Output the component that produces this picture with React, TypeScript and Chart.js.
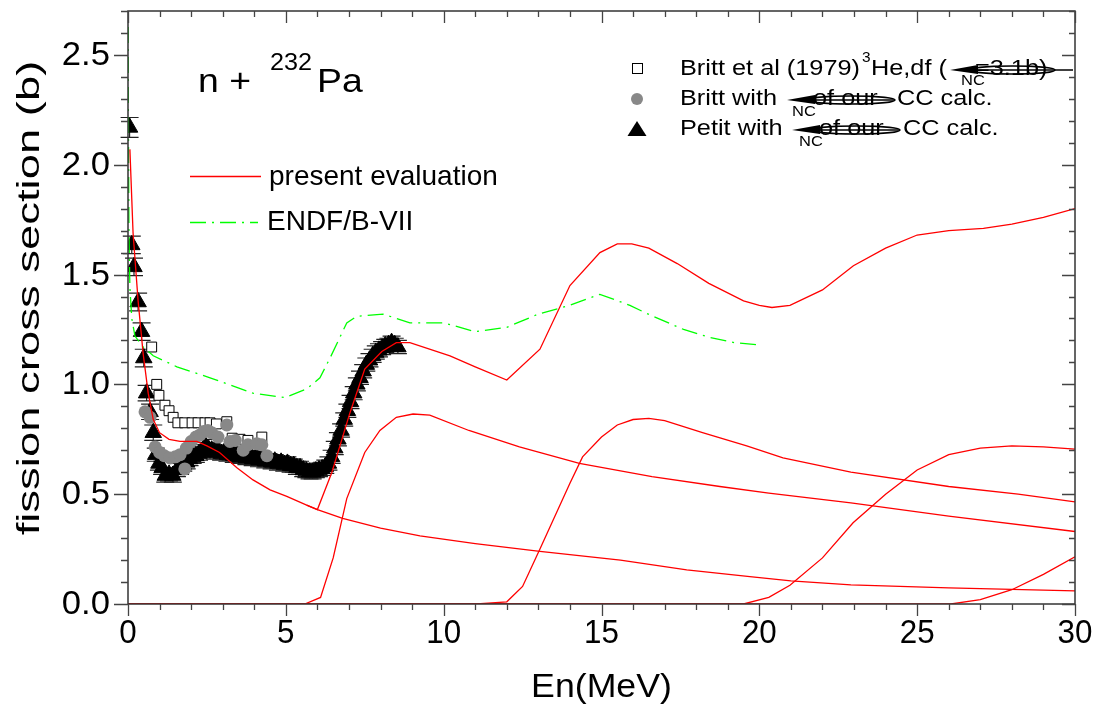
import React, { useEffect, useRef } from "react";
import { Chart, registerables } from "chart.js";

Chart.register(...registerables);

// ---------- data ----------
const X_TICKS_MAJOR = [0, 5, 10, 15, 20, 25, 30];
const X_TICK_LABELS = ["0", "5", "10", "15", "20", "25", "30"];
const Y_TICKS_MAJOR = [0, 0.5, 1.0, 1.5, 2.0, 2.5];
const Y_TICK_LABELS = ["0.0", "0.5", "1.0", "1.5", "2.0", "2.5"];

// present evaluation: total fission and multi-chance components
const TOTAL: [number, number][] = [
  [0.06, 2.07], [0.16, 1.69], [0.32, 1.38], [0.48, 1.14], [0.64, 0.96], [0.8, 0.84], [1.0, 0.78],
  [1.3, 0.75], [1.65, 0.74], [2.18, 0.74], [2.5, 0.72], [2.9, 0.69], [3.45, 0.62], [3.96, 0.565],
  [4.5, 0.52], [5.03, 0.49], [5.66, 0.45], [6.0, 0.43], [6.46, 0.6], [7.03, 0.87], [7.5, 1.07],
  [8.04, 1.15], [8.5, 1.19], [8.93, 1.19], [10.2, 1.13], [11.0, 1.08], [12.0, 1.02], [13.05, 1.16],
  [14.0, 1.45], [14.95, 1.6], [15.5, 1.64], [15.96, 1.64], [16.5, 1.62], [17.4, 1.55], [18.4, 1.46],
  [19.5, 1.38], [20.0, 1.36], [20.4, 1.35], [20.97, 1.36], [22.0, 1.43], [22.98, 1.54], [24.0, 1.62],
  [25.0, 1.68], [26.0, 1.7], [27.1, 1.71], [28.0, 1.73], [29.0, 1.76], [30.0, 1.8],
];
const FIRST_CHANCE: [number, number][] = [
  [5.66, 0.45], [6.0, 0.43], [6.8, 0.39], [8.0, 0.345], [9.25, 0.31], [11.0, 0.275], [13.05, 0.24],
  [15.6, 0.2], [17.7, 0.155], [19.7, 0.125], [21.0, 0.105], [22.9, 0.087], [26.0, 0.073], [30.0, 0.06],
];
const SECOND_CHANCE: [number, number][] = [
  [0, 0], [5.6, 0], [6.1, 0.03], [6.5, 0.21], [6.93, 0.48], [7.5, 0.69], [7.98, 0.79], [8.5, 0.85],
  [9.03, 0.865], [9.56, 0.86], [10.8, 0.79], [12.4, 0.715], [14.3, 0.64], [16.6, 0.58], [18.75, 0.535],
  [20.3, 0.505], [22.9, 0.46], [26.0, 0.4], [30.0, 0.33],
];
const THIRD_CHANCE: [number, number][] = [
  [0, 0], [11.05, 0], [12.0, 0.01], [12.5, 0.08], [13.05, 0.25], [14.0, 0.55], [14.4, 0.67],
  [15.0, 0.76], [15.5, 0.815], [16.0, 0.84], [16.5, 0.845], [17.0, 0.835], [18.2, 0.78], [19.6, 0.72],
  [20.75, 0.665], [22.9, 0.6], [26.0, 0.535], [28.2, 0.5], [30.0, 0.465],
];
const FOURTH_CHANCE: [number, number][] = [
  [0, 0], [19.5, 0], [20.3, 0.03], [20.97, 0.085], [22.0, 0.21], [22.97, 0.37], [24.0, 0.5],
  [25.0, 0.61], [26.0, 0.68], [27.0, 0.71], [28.0, 0.72], [29.0, 0.715], [30.0, 0.705],
];
const FIFTH_CHANCE: [number, number][] = [
  [0, 0], [26.07, 0], [27.0, 0.02], [28.0, 0.065], [29.0, 0.135], [30.0, 0.215],
];

// ENDF/B-VII
const ENDF: [number, number][] = [
  [0.002, 2.9], [0.01, 2.3], [0.03, 1.69], [0.06, 1.44], [0.12, 1.3], [0.22, 1.22], [0.48, 1.17],
  [0.8, 1.13], [1.55, 1.08], [2.6, 1.03], [3.96, 0.96], [4.97, 0.94], [5.67, 0.98], [6.08, 1.03],
  [6.4, 1.12], [6.93, 1.28], [7.25, 1.31], [8.08, 1.32], [8.93, 1.28], [10.0, 1.28], [11.0, 1.24],
  [12.0, 1.26], [13.0, 1.32], [14.0, 1.36], [14.95, 1.41], [15.9, 1.36], [16.4, 1.325], [17.6, 1.25],
  [18.4, 1.215], [19.2, 1.19], [20.0, 1.18],
];

// Britt et al (1979) 3He,df
const BRITT: [number, number][] = [
  [0.75, 1.17], [0.91, 1.0], [0.98, 0.95], [1.17, 0.905], [1.3, 0.88], [1.43, 0.85], [1.58, 0.825],
  [1.8, 0.825], [2.03, 0.825], [2.22, 0.825], [2.44, 0.825], [2.6, 0.825], [2.8, 0.82], [3.13, 0.83],
  [3.3, 0.755], [3.55, 0.75], [3.8, 0.745], [4.24, 0.76],
];
// Britt with sigma_NC of our CC calc.
const BRITT_CC: [number, number][] = [
  [0.54, 0.875], [0.7, 0.85], [0.86, 0.715], [1.0, 0.69], [1.15, 0.675], [1.33, 0.665], [1.5, 0.67],
  [1.65, 0.68], [1.8, 0.615], [1.85, 0.71], [2.0, 0.74], [2.15, 0.76], [2.28, 0.77], [2.4, 0.785],
  [2.53, 0.79], [2.65, 0.78], [2.85, 0.76], [3.13, 0.815], [3.23, 0.74], [3.4, 0.745], [3.65, 0.7],
  [3.8, 0.725], [4.08, 0.73], [4.24, 0.725], [4.4, 0.675],
];
// Petit with sigma_NC of our CC calc.: [x, y, error]
const PETIT: [number, number, number][] = [
  [0.05, 2.17, 0.045], [0.12, 1.635, 0.04], [0.19, 1.535, 0.04], [0.32, 1.375, 0.04], [0.43, 1.24, 0.04],
  [0.5, 1.12, 0.04], [0.59, 0.96, 0.035], [0.7, 0.875, 0.035], [0.8, 0.78, 0.035], [0.88, 0.68, 0.03],
  [0.98, 0.64, 0.03], [1.08, 0.62, 0.03], [1.18, 0.585, 0.03], [1.3, 0.59, 0.03], [1.42, 0.585, 0.03],
  [1.55, 0.61, 0.03], [1.65, 0.62, 0.03], [1.75, 0.635, 0.03], [1.86, 0.645, 0.03], [1.95, 0.66, 0.03],
  [2.05, 0.67, 0.03], [2.15, 0.675, 0.03], [2.25, 0.685, 0.03], [2.35, 0.695, 0.03], [2.45, 0.72, 0.03],
  [2.55, 0.705, 0.03], [2.65, 0.7, 0.03], [2.75, 0.69, 0.03], [2.85, 0.695, 0.03], [2.95, 0.685, 0.03],
  [3.05, 0.69, 0.03], [3.15, 0.68, 0.03], [3.25, 0.685, 0.03], [3.35, 0.675, 0.03], [3.45, 0.68, 0.03],
  [3.55, 0.67, 0.03], [3.65, 0.675, 0.03], [3.75, 0.665, 0.03], [3.85, 0.67, 0.03], [3.95, 0.66, 0.03],
  [4.05, 0.665, 0.03], [4.15, 0.655, 0.03], [4.25, 0.66, 0.03], [4.35, 0.65, 0.03], [4.45, 0.655, 0.03],
  [4.55, 0.645, 0.03], [4.65, 0.65, 0.03], [4.75, 0.64, 0.03], [4.85, 0.645, 0.03], [4.95, 0.635, 0.03],
  [5.05, 0.64, 0.03], [5.15, 0.63, 0.03], [5.25, 0.63, 0.03], [5.35, 0.62, 0.03], [5.45, 0.62, 0.03],
  [5.55, 0.61, 0.03], [5.65, 0.605, 0.03], [5.75, 0.6, 0.03], [5.85, 0.6, 0.03], [5.95, 0.605, 0.03],
  [6.05, 0.61, 0.03], [6.15, 0.615, 0.03], [6.25, 0.625, 0.03], [6.35, 0.64, 0.03], [6.45, 0.67, 0.03],
  [6.55, 0.71, 0.03], [6.65, 0.75, 0.03], [6.75, 0.79, 0.03], [6.85, 0.84, 0.03], [6.95, 0.88, 0.03],
  [7.05, 0.92, 0.03], [7.15, 0.96, 0.03], [7.25, 1.0, 0.03], [7.35, 1.03, 0.03], [7.45, 1.06, 0.03],
  [7.55, 1.09, 0.03], [7.65, 1.11, 0.03], [7.75, 1.13, 0.03], [7.85, 1.145, 0.03], [7.95, 1.155, 0.03],
  [8.05, 1.165, 0.03], [8.15, 1.175, 0.03], [8.25, 1.18, 0.03], [8.35, 1.19, 0.03], [8.45, 1.18, 0.03],
  [8.55, 1.17, 0.03],
];

const FONT = '"Liberation Sans", Arial, sans-serif';

const pts = (a: number[][]) => a.map((p) => ({ x: p[0], y: p[1] }));

function drawText(
  ctx: CanvasRenderingContext2D, s: string, x: number, y: number, size: number,
  sx = 1, align: CanvasTextAlign = "left", baseline: CanvasTextBaseline = "middle", rot = 0
) {
  ctx.save();
  ctx.font = `${size}px ${FONT}`;
  ctx.fillStyle = "#000";
  ctx.translate(x, y);
  if (rot) ctx.rotate(rot);
  ctx.scale(sx, 1);
  ctx.textAlign = align;
  ctx.textBaseline = baseline;
  ctx.fillText(s, 0, 0);
  ctx.restore();
}

function glitch(ctx: CanvasRenderingContext2D, x0: number, y: number, len: number, tail = 0) {
  ctx.save();
  ctx.fillStyle = "#000";
  ctx.strokeStyle = "#000";
  ctx.beginPath();
  ctx.moveTo(x0, y);
  ctx.lineTo(x0 + 28, y - 5);
  ctx.lineTo(x0 + 28, y + 4);
  ctx.closePath();
  ctx.fill();
  ctx.lineWidth = 1.6;
  ctx.beginPath();
  ctx.ellipse(x0 + 20 + (len - 20) / 2, y, (len - 20) / 2, 4, 0, 0, Math.PI * 2);
  ctx.stroke();
  ctx.beginPath();
  ctx.moveTo(x0 + 20, y);
  ctx.lineTo(x0 + len + tail, y);
  ctx.stroke();
  ctx.restore();
}

const framePlugin = {
  id: "frame",
  beforeDatasetsDraw(chart: any) {
    const { ctx, scales } = chart;
    const xs = scales.x, ys = scales.y;
    ctx.save();
    ctx.strokeStyle = "#222";
    ctx.lineWidth = 1.2;
    for (const [x, y, e] of PETIT) {
      const px = xs.getPixelForValue(x);
      const p1 = ys.getPixelForValue(y + e);
      const p2 = ys.getPixelForValue(y - e);
      ctx.beginPath();
      ctx.moveTo(px, p1); ctx.lineTo(px, p2);
      ctx.moveTo(px - 9, p1); ctx.lineTo(px + 9, p1);
      ctx.moveTo(px - 9, p2); ctx.lineTo(px + 9, p2);
      ctx.stroke();
    }
    ctx.restore();
  },
  afterDraw(chart: any) {
    const { ctx, chartArea: a, scales } = chart;
    const xs = scales.x, ys = scales.y;
    ctx.save();
    // frame
    ctx.strokeStyle = "#333";
    ctx.lineWidth = 1.5;
    ctx.strokeRect(a.left, a.top, a.right - a.left, a.bottom - a.top);
    // ticks
    ctx.strokeStyle = "#444";
    ctx.lineWidth = 1.3;
    ctx.beginPath();
    for (let i = 0; i <= 27; i++) {
      const y = Math.round(ys.getPixelForValue(i / 10)) + 0.5;
      const major = Y_TICKS_MAJOR.some((v) => Math.abs(v - i / 10) < 1e-9);
      ctx.moveTo(a.left - (major ? 14 : 7), y); ctx.lineTo(a.left, y);
      ctx.moveTo(a.right, y); ctx.lineTo(a.right - (major ? 13 : 6), y);
    }
    for (let i = 0; i <= 30; i++) {
      const x = Math.round(xs.getPixelForValue(i)) + 0.5;
      const major = X_TICKS_MAJOR.includes(i);
      ctx.moveTo(x, a.bottom); ctx.lineTo(x, a.bottom + (major ? 12 : 6));
      ctx.moveTo(x, a.top); ctx.lineTo(x, a.top + (major ? 12 : 6));
    }
    ctx.stroke();
    ctx.restore();

    // tick labels
    Y_TICKS_MAJOR.forEach((v, i) => {
      drawText(ctx, Y_TICK_LABELS[i], a.left - 18, ys.getPixelForValue(v) + 1, 33, 1.05, "right", "middle");
    });
    X_TICKS_MAJOR.forEach((v, i) => {
      drawText(ctx, X_TICK_LABELS[i], xs.getPixelForValue(v), a.bottom + 30, 33, 0.95, "center", "middle");
    });

    // axis titles
    drawText(ctx, "En(MeV)", (a.left + a.right) / 2, 688, 34, 1.05, "center", "middle");
    drawText(ctx, "fission cross section (b)", 30, 298, 32, 1.42, "center", "middle", -Math.PI / 2);

    // reaction label
    drawText(ctx, "n + ", 198, 92, 34, 1.1, "left", "alphabetic");
    drawText(ctx, "232", 270, 70, 24, 1.05, "left", "alphabetic");
    drawText(ctx, "Pa", 317, 92, 34, 1.1, "left", "alphabetic");

    // line legend
    ctx.save();
    ctx.lineWidth = 1.3;
    ctx.strokeStyle = "#ff0000";
    ctx.beginPath(); ctx.moveTo(190, 176.5); ctx.lineTo(261, 176.5); ctx.stroke();
    ctx.strokeStyle = "#00ff00";
    ctx.setLineDash([16, 6, 2, 6]);
    ctx.beginPath(); ctx.moveTo(190, 222.5); ctx.lineTo(258, 222.5); ctx.stroke();
    ctx.restore();
    drawText(ctx, "present evaluation", 269, 177, 28);
    drawText(ctx, "ENDF/B-VII", 267, 222, 28);

    // marker legend
    ctx.save();
    ctx.fillStyle = "#fff"; ctx.strokeStyle = "#000"; ctx.lineWidth = 1;
    ctx.fillRect(632.5, 63.5, 10, 10); ctx.strokeRect(632.5, 63.5, 10, 10);
    ctx.fillStyle = "#888";
    ctx.beginPath(); ctx.arc(637, 99, 6, 0, Math.PI * 2); ctx.fill();
    ctx.fillStyle = "#000";
    ctx.beginPath(); ctx.moveTo(637, 121); ctx.lineTo(646.5, 136); ctx.lineTo(627.5, 136); ctx.closePath(); ctx.fill();
    ctx.restore();

    drawText(ctx, "Britt et al (1979) ", 680, 69, 22, 1.15);
    drawText(ctx, "3", 862, 62, 14, 1.1, "left", "alphabetic");
    drawText(ctx, "He,df (", 871, 69, 22, 1.15);
    drawText(ctx, "NC", 961, 81, 15, 1.1);
    drawText(ctx, "=3.1b)", 975, 69, 22, 1.15);
    glitch(ctx, 950, 70, 105, 18);

    drawText(ctx, "Britt with ", 680, 99, 22, 1.15);
    drawText(ctx, "NC", 792, 112, 15, 1.1);
    drawText(ctx, "of our", 813, 99, 22, 1.15);
    drawText(ctx, "CC calc.", 897, 99, 22, 1.15);
    glitch(ctx, 787, 100, 108);

    drawText(ctx, "Petit with ", 680, 129, 22, 1.15);
    drawText(ctx, "NC", 799, 142, 15, 1.1);
    drawText(ctx, "of our", 819, 129, 22, 1.15);
    drawText(ctx, "CC calc.", 903, 129, 22, 1.15);
    glitch(ctx, 792, 130, 108);
  },
};

export default function App() {
  const ref = useRef<HTMLCanvasElement | null>(null);
  useEffect(() => {
    if (!ref.current) return;
    const red = (d: [number, number][]) => ({
      data: pts(d), showLine: true, borderColor: "#ff0000", borderWidth: 1.3,
      pointRadius: 0, fill: false, tension: 0, order: 0,
    });
    const chart = new Chart(ref.current, {
      type: "scatter",
      data: {
        datasets: [
          red(TOTAL), red(FIRST_CHANCE), red(SECOND_CHANCE), red(THIRD_CHANCE),
          red(FOURTH_CHANCE), red(FIFTH_CHANCE),
          {
            data: pts(ENDF), showLine: true, borderColor: "#00ff00", borderWidth: 1.3,
            borderDash: [16, 6, 2, 6], pointRadius: 0, fill: false, order: 1,
          },
          {
            data: pts(BRITT_CC), pointStyle: "circle", pointRadius: 6.5,
            backgroundColor: "#888888", borderColor: "#888888", borderWidth: 0, order: 2,
          },
          {
            data: pts(BRITT), pointStyle: "rect", pointRadius: 7,
            backgroundColor: "#ffffff", borderColor: "#000000", borderWidth: 1, order: 3,
          },
          {
            data: pts(PETIT), pointStyle: "triangle", pointRadius: 9.5,
            backgroundColor: "#000000", borderColor: "#000000", borderWidth: 1, order: 4,
          },
        ] as any,
      },
      options: {
        responsive: false,
        animation: false,
        events: [],
        layout: { padding: { top: 11, right: 23, left: 0, bottom: 0 } },
        plugins: { legend: { display: false }, tooltip: { enabled: false } },
        scales: {
          x: {
            type: "linear", min: 0, max: 30,
            ticks: { display: false, stepSize: 5 },
            grid: { display: false, drawTicks: false },
            border: { display: false },
            afterFit: (s: any) => { s.height = 102; },
          },
          y: {
            type: "linear", min: 0, max: 2.7,
            ticks: { display: false, stepSize: 0.5 },
            grid: { display: false, drawTicks: false },
            border: { display: false },
            afterFit: (s: any) => { s.width = 128; },
          },
        },
      } as any,
      plugins: [framePlugin],
    });
    return () => chart.destroy();
  }, []);
  return (
    <div style={{ position: "fixed", left: 0, top: 0, width: 1098, height: 706, background: "#fff" }}>
      <canvas ref={ref} width={1098} height={706} style={{ width: 1098, height: 706, display: "block" }} />
    </div>
  );
}
